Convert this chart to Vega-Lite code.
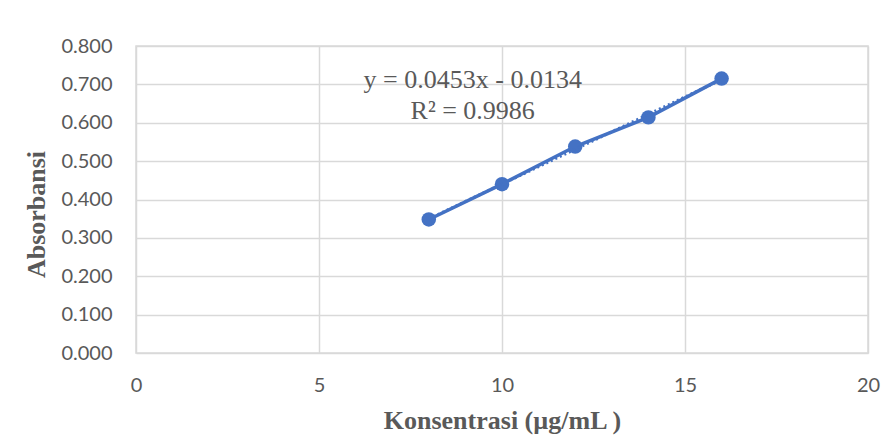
{
  "$schema": "https://vega.github.io/schema/vega-lite/v6.json",
  "width": 732,
  "height": 307,
  "autosize": {"type": "none"},
  "padding": {"left": 136, "top": 46, "right": 23, "bottom": 88},
  "background": "white",
  "config": {
    "view": {"stroke": "#d9d9d9", "strokeWidth": 1.5},
    "axis": {
      "gridColor": "#d9d9d9",
      "gridWidth": 1.5,
      "domain": false,
      "ticks": false,
      "labelOverlap": false,
      "labelFlush": false,
      "labelFont": "Lato",
      "labelFontSize": 20,
      "labelColor": "#595959",
      "titleFont": "Liberation Serif",
      "titleFontWeight": "bold",
      "titleFontSize": 26,
      "titleColor": "#595959"
    }
  },
  "data": {
    "values": [
      {"konsentrasi": 8, "absorbansi": 0.348},
      {"konsentrasi": 10, "absorbansi": 0.440},
      {"konsentrasi": 12, "absorbansi": 0.538},
      {"konsentrasi": 14, "absorbansi": 0.614},
      {"konsentrasi": 16, "absorbansi": 0.715}
    ]
  },
  "encoding": {
    "x": {"field": "konsentrasi", "type": "quantitative", "scale": {"domain": [0, 20]},
      "axis": {"values": [0, 5, 10, 15, 20], "tickCount": 20, "labelPadding": 22, "title": "Konsentrasi (µg/mL )", "titlePadding": 12}},
    "y": {"field": "absorbansi", "type": "quantitative", "scale": {"domain": [0, 0.8]},
      "axis": {"values": [0, 0.1, 0.2, 0.3, 0.4, 0.5, 0.6, 0.7, 0.8], "tickCount": 20, "format": ".3f", "labelPadding": 24, "title": "Absorbansi", "titlePadding": 11, "titleY": 168}}
  },
  "layer": [
    {
      "mark": {"type": "line", "color": "#4472C4", "strokeWidth": 3.5, "point": {"filled": true, "size": 210, "color": "#4472C4", "opacity": 1}}
    },
    {
      "transform": [{"regression": "absorbansi", "on": "konsentrasi"}],
      "mark": {"type": "line", "color": "#4472C4", "strokeWidth": 3, "strokeDash": [2, 3]}
    },
    {
      "data": {"values": [{"label": "y = 0.0453x - 0.0134", "lx": 9.2, "ly": 0.711}, {"label": "R² = 0.9986", "lx": 9.2, "ly": 0.631}]},
      "mark": {"type": "text", "font": "Liberation Serif", "fontWeight": 400, "fontSize": 26, "color": "#595959", "align": "center", "baseline": "middle"},
      "encoding": {
        "x": {"field": "lx", "type": "quantitative"},
        "y": {"field": "ly", "type": "quantitative"},
        "text": {"field": "label"}
      }
    }
  ]
}
